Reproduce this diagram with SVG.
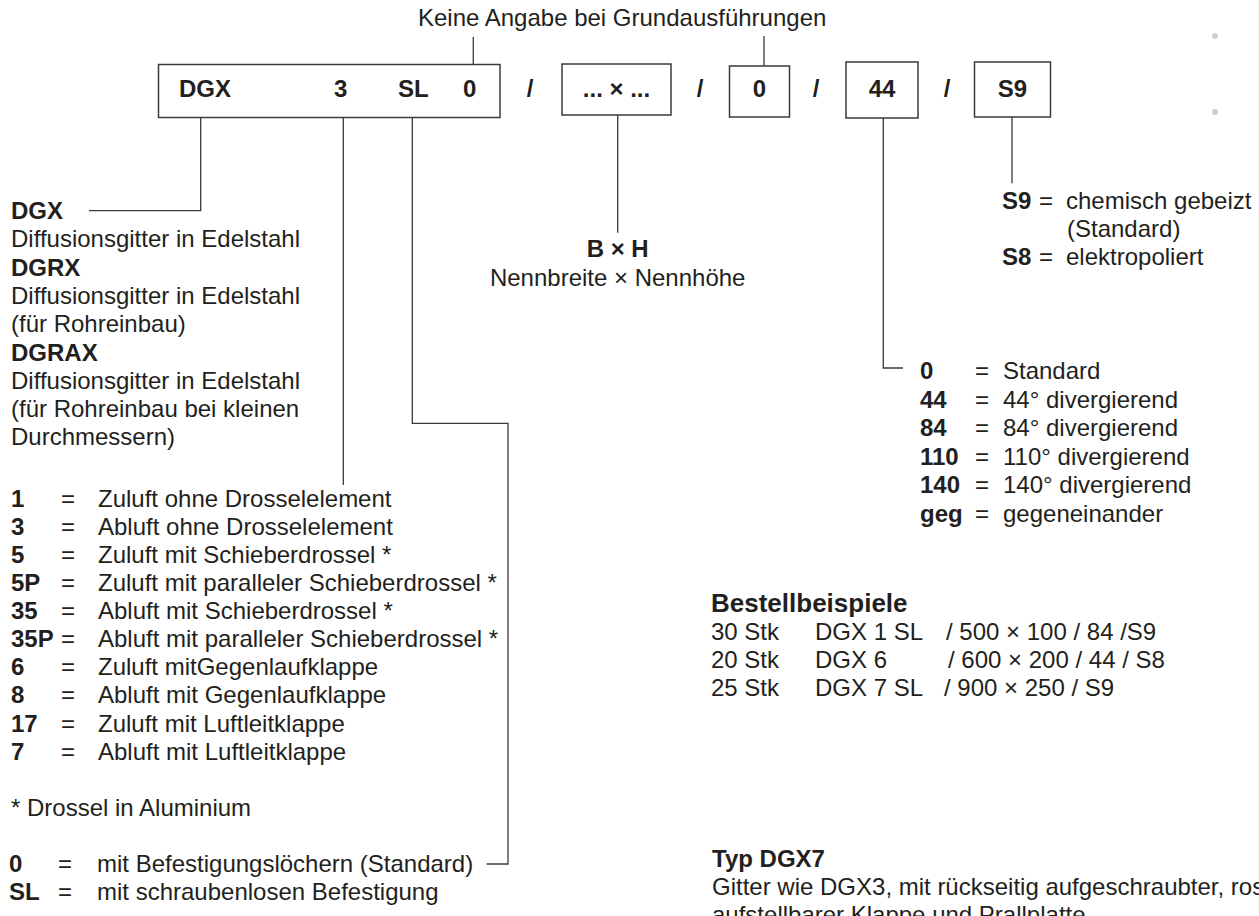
<svg xmlns="http://www.w3.org/2000/svg" width="1259" height="916" viewBox="0 0 1259 916">
<style>
text{font-family:"Liberation Sans",Arial,Helvetica,sans-serif;fill:#231f20;font-size:24px}
.b{font-weight:bold}
.m{text-anchor:middle}
.h{font-size:26px}
.box{fill:#fff;stroke:#3a3a3a;stroke-width:1.5}
.ln{fill:none;stroke:#3a3a3a;stroke-width:1.3}
.dot{fill:#cfcfcf}
</style>
<rect width="1259" height="916" fill="#fff"/>

<g id="connectors">
<path class="ln" d="M473.3,37 V64"/>
<path class="ln" d="M764,36 V66"/>
<path class="ln" d="M200.7,117 V210.7 H89"/>
<path class="ln" d="M343.3,117 V485"/>
<path class="ln" d="M412.3,117 V423.3 H508 V864 H486.6"/>
<path class="ln" d="M617.7,115 V232.7"/>
<path class="ln" d="M883.3,118 V368 H903"/>
<path class="ln" d="M1012,117 V183.3"/>
</g>

<g id="note-top">
<text x="418" y="26">Keine Angabe bei Grundausführungen</text>
</g>

<g id="code-main">
<rect class="box" x="158.5" y="64.5" width="341.5" height="53"/>
<text class="b" x="179" y="97">DGX</text>
<text class="b" x="334" y="97">3</text>
<text class="b" x="398" y="97">SL</text>
<text class="b" x="463" y="97">0</text>
</g>
<g id="separators">
<text class="b m" x="530" y="97">/</text>
<text class="b m" x="700" y="97">/</text>
<text class="b m" x="816" y="97">/</text>
<text class="b m" x="947" y="97">/</text>
</g>
<g id="code-size">
<rect class="box" x="562" y="64" width="109" height="51"/>
<text class="b m" x="616.5" y="97">... × ...</text>
</g>
<g id="code-0">
<rect class="box" x="729.5" y="66" width="60" height="51"/>
<text class="b m" x="759.5" y="97">0</text>
</g>
<g id="code-44">
<rect class="box" x="846" y="62" width="72" height="56"/>
<text class="b m" x="882" y="97">44</text>
</g>
<g id="code-s9">
<rect class="box" x="974.5" y="62" width="76" height="55"/>
<text class="b m" x="1012.5" y="97">S9</text>
</g>

<g id="dots">
<circle class="dot" cx="1215" cy="36" r="3"/>
<circle class="dot" cx="1215" cy="112" r="3"/>
</g>

<g id="legend-type">
<text class="b" x="11" y="219">DGX</text>
<text x="11" y="247.3">Diffusionsgitter in Edelstahl</text>
<text class="b" x="11" y="275.6">DGRX</text>
<text x="11" y="303.9">Diffusionsgitter in Edelstahl</text>
<text x="11" y="332.2">(für Rohreinbau)</text>
<text class="b" x="11" y="360.5">DGRAX</text>
<text x="11" y="388.8">Diffusionsgitter in Edelstahl</text>
<text x="11" y="417.1">(für Rohreinbau bei kleinen</text>
<text x="11" y="445.4">Durchmessern)</text>
</g>

<g id="legend-variant">
<text class="b" x="11" y="506.7">1</text><text x="61" y="506.7">=</text><text x="98" y="506.7">Zuluft ohne Drosselelement</text>
<text class="b" x="11" y="534.8">3</text><text x="61" y="534.8">=</text><text x="98" y="534.8">Abluft ohne Drosselelement</text>
<text class="b" x="11" y="562.9">5</text><text x="61" y="562.9">=</text><text x="98" y="562.9">Zuluft mit Schieberdrossel *</text>
<text class="b" x="11" y="591">5P</text><text x="61" y="591">=</text><text x="98" y="591">Zuluft mit paralleler Schieberdrossel *</text>
<text class="b" x="11" y="619.1">35</text><text x="61" y="619.1">=</text><text x="98" y="619.1">Abluft mit Schieberdrossel *</text>
<text class="b" x="11" y="647.2">35P</text><text x="61" y="647.2">=</text><text x="98" y="647.2">Abluft mit paralleler Schieberdrossel *</text>
<text class="b" x="11" y="675.3">6</text><text x="61" y="675.3">=</text><text x="98" y="675.3">Zuluft mitGegenlaufklappe</text>
<text class="b" x="11" y="703.4">8</text><text x="61" y="703.4">=</text><text x="98" y="703.4">Abluft mit Gegenlaufklappe</text>
<text class="b" x="11" y="731.5">17</text><text x="61" y="731.5">=</text><text x="98" y="731.5">Zuluft mit Luftleitklappe</text>
<text class="b" x="11" y="759.6">7</text><text x="61" y="759.6">=</text><text x="98" y="759.6">Abluft mit Luftleitklappe</text>
<text x="11" y="815.8">* Drossel in Aluminium</text>
</g>

<g id="legend-fixing">
<text class="b" x="9" y="872">0</text><text x="58" y="872">=</text><text x="97" y="872">mit Befestigungslöchern (Standard)</text>
<text class="b" x="9" y="900">SL</text><text x="58" y="900">=</text><text x="97" y="900">mit schraubenlosen Befestigung</text>
</g>

<g id="legend-size">
<text class="b m" x="617.7" y="257.3">B × H</text>
<text class="m" x="617.7" y="286">Nennbreite × Nennhöhe</text>
</g>

<g id="legend-finish">
<text class="b" x="1002" y="209">S9</text><text x="1039" y="209">=</text><text x="1066" y="209">chemisch gebeizt</text>
<text x="1067" y="237">(Standard)</text>
<text class="b" x="1002" y="265">S8</text><text x="1039" y="265">=</text><text x="1066" y="265">elektropoliert</text>
</g>

<g id="legend-angle">
<text class="b" x="920" y="379">0</text><text x="975" y="379">=</text><text x="1003" y="379">Standard</text>
<text class="b" x="920" y="407.5">44</text><text x="975" y="407.5">=</text><text x="1003" y="407.5">44° divergierend</text>
<text class="b" x="920" y="436">84</text><text x="975" y="436">=</text><text x="1003" y="436">84° divergierend</text>
<text class="b" x="920" y="464.5">110</text><text x="975" y="464.5">=</text><text x="1003" y="464.5">110° divergierend</text>
<text class="b" x="920" y="493">140</text><text x="975" y="493">=</text><text x="1003" y="493">140° divergierend</text>
<text class="b" x="920" y="521.5">geg</text><text x="975" y="521.5">=</text><text x="1003" y="521.5">gegeneinander</text>
</g>

<g id="examples">
<text class="b h" x="711" y="612">Bestellbeispiele</text>
<text x="711" y="640">30 Stk</text><text x="815" y="640">DGX 1 SL</text><text x="946" y="640">/ 500 × 100 / 84 /S9</text>
<text x="711" y="668">20 Stk</text><text x="815" y="668">DGX 6</text><text x="948" y="668">/ 600 × 200 / 44 / S8</text>
<text x="711" y="696">25 Stk</text><text x="815" y="696">DGX 7 SL</text><text x="944" y="696">/ 900 × 250 / S9</text>
</g>

<g id="type-dgx7">
<text class="b" x="712" y="867">Typ DGX7</text>
<text x="712" y="895">Gitter wie DGX3, mit rückseitig aufgeschraubter, ros</text>
<text x="712" y="923">aufstellbarer Klappe und Prallplatte</text>
</g>
</svg>
